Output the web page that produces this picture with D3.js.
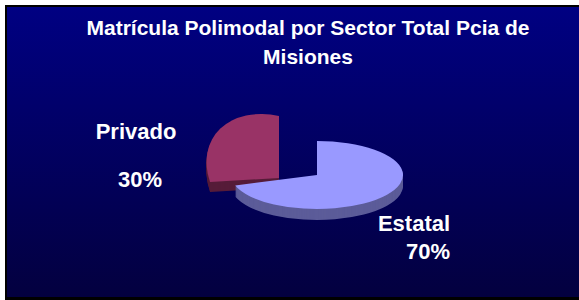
<!DOCTYPE html>
<html>
<meta charset="utf-8">
<style>
  body { margin: 0; background: #fff; }
  text { font-family: "Liberation Sans", Arial, sans-serif; font-weight: bold; fill: #fff; }
</style>
<script src="https://d3js.org/d3.v7.min.js"></script>
<body>
<script>
  var svgWidth = 579, svgHeight = 300;

  var titleLines = ["Matrícula Polimodal por Sector Total Pcia de", "Misiones"];
  var sectors = ["Estatal", "Privado"];
  var shares = [70, 30];
  var shareLabels = ["70%", "30%"];

  // tilted view of each slice: x scale, y scale, skew, center, depth
  var view = [
    { a: 86, b: 34, skew: 0, cx: 317, cy: 175, depth: 11 },
    { a: 72.5, b: 62, skew: 16, cx: 279, cy: 178, depth: 10 }
  ];
  var topColor = ["#9999ff", "#993366"];
  var sideColor = ["#5c5c99", "#561c39"];

  // label positions (name line, percent line)
  var labelPos = [
    { nx: 414, ny: 231, px: 428, py: 259 },
    { nx: 136, ny: 139, px: 140, py: 187 }
  ];

  var svg = d3.select("body")
    .append("svg")
    .attr("width", svgWidth)
    .attr("height", svgHeight);

  var grad = svg.append("defs").append("linearGradient")
    .attr("id", "bg")
    .attr("x1", 0).attr("y1", 0).attr("x2", 0).attr("y2", 1);
  grad.append("stop").attr("offset", "0%").attr("stop-color", "#000082");
  grad.append("stop").attr("offset", "100%").attr("stop-color", "#03003f");

  svg.append("rect")
    .attr("x", 5).attr("y", 5)
    .attr("width", svgWidth - 5).attr("height", svgHeight - 5)
    .attr("fill", "#000");
  svg.append("rect")
    .attr("x", 7).attr("y", 7)
    .attr("width", svgWidth - 7).attr("height", svgHeight - 10)
    .attr("fill", "url(#bg)");

  svg.selectAll(".title")
    .data(titleLines)
    .enter()
    .append("text")
    .attr("class", "title")
    .attr("x", 308)
    .attr("y", function(d, i){ return 34.5 + i * 29; })
    .attr("text-anchor", "middle")
    .style("font-size", "21px")
    .text(function(d){ return d; });

  var pie = d3.pie().sort(null).value(function(d){ return d; });
  var arc = d3.arc().innerRadius(0).outerRadius(1);
  var slices = pie(shares);

  // draw Privado first so Estatal sits in front
  [1, 0].forEach(function(i){
    var v = view[i];
    var g = svg.append("g");
    for (var k = v.depth; k >= 1; k--) {
      g.append("path")
        .attr("d", arc(slices[i]))
        .attr("fill", sideColor[i])
        .attr("transform", "matrix(" + [v.a, v.skew, 0, v.b, v.cx, v.cy + k].join(",") + ")");
    }
    g.append("path")
      .attr("d", arc(slices[i]))
      .attr("fill", topColor[i])
      .attr("transform", "matrix(" + [v.a, v.skew, 0, v.b, v.cx, v.cy].join(",") + ")");
  });

  var labels = svg.selectAll(".lbl")
    .data(sectors)
    .enter()
    .append("g")
    .attr("class", "lbl");

  labels.append("text")
    .attr("x", function(d, i){ return labelPos[i].nx; })
    .attr("y", function(d, i){ return labelPos[i].ny; })
    .attr("text-anchor", "middle")
    .style("font-size", "22px")
    .text(function(d){ return d; });

  labels.append("text")
    .attr("x", function(d, i){ return labelPos[i].px; })
    .attr("y", function(d, i){ return labelPos[i].py; })
    .attr("text-anchor", "middle")
    .style("font-size", "22px")
    .text(function(d, i){ return shareLabels[i]; });
</script>
</body>
</html>
